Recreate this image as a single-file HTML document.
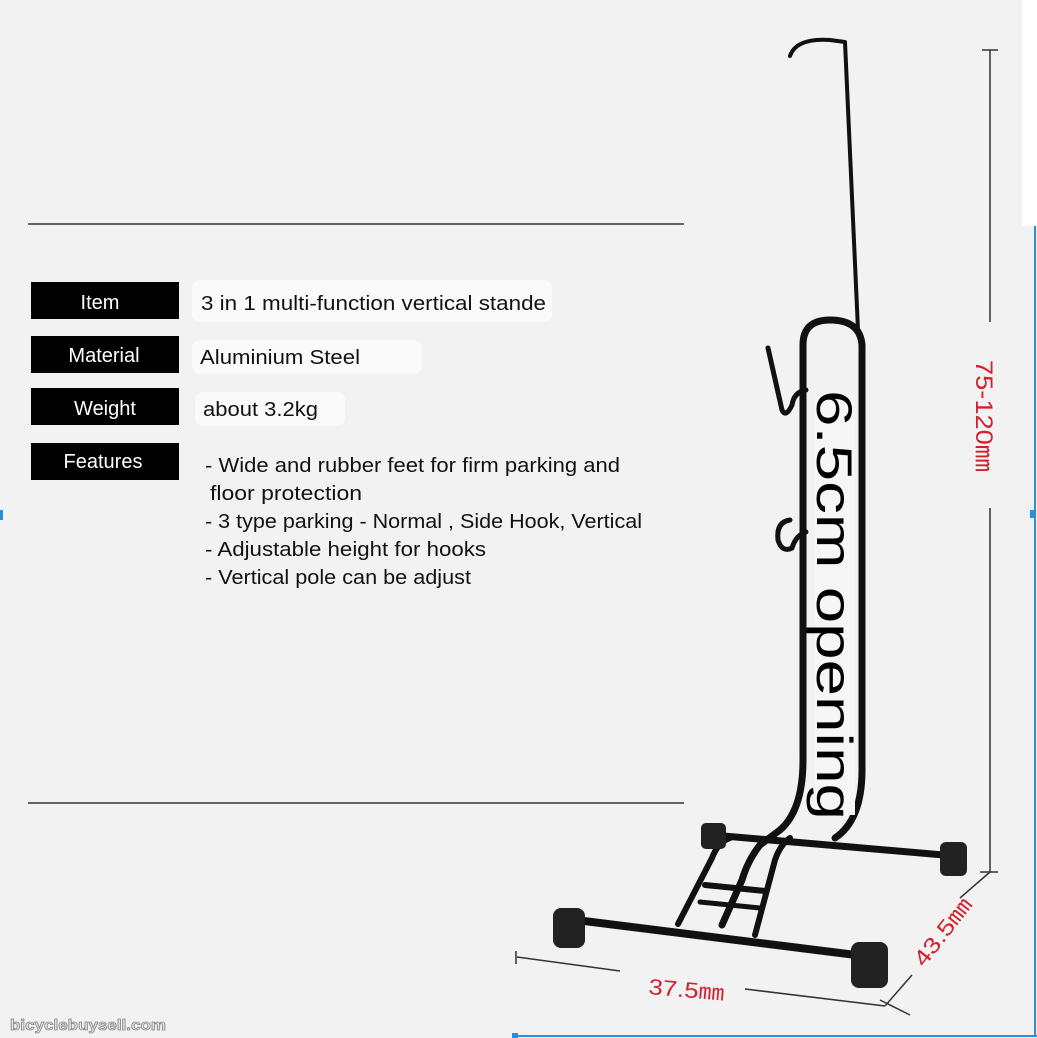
<!DOCTYPE html>
<html><head><meta charset="utf-8"><style>
html,body{margin:0;padding:0;background:#f2f2f2}
svg{display:block}
</style></head><body>
<svg width="1037" height="1038" viewBox="0 0 1037 1038" xmlns="http://www.w3.org/2000/svg">
<rect width="1037" height="1038" fill="#f2f2f2"/>
<rect x="1022" y="0" width="15" height="226" fill="#ffffff"/>
<line x1="1035" y1="226" x2="1035" y2="1037" stroke="#2b8fd8" stroke-width="2"/>
<line x1="515" y1="1036" x2="1037" y2="1036" stroke="#2b8fd8" stroke-width="2"/>
<rect x="1030" y="510" width="5" height="8" fill="#2b8fd8"/>
<rect x="0" y="510" width="3" height="10" fill="#2b8fd8"/>
<rect x="512" y="1033" width="6" height="5" fill="#2b8fd8"/>

<!-- panel lines -->
<line x1="28" y1="224" x2="684" y2="224" stroke="#333" stroke-width="1.5"/>
<line x1="28" y1="803" x2="684" y2="803" stroke="#333" stroke-width="1.5"/>

<g font-family="Liberation Sans, sans-serif">
<rect x="31" y="282" width="148" height="37" fill="#000"/>
<rect x="31" y="336" width="148" height="37" fill="#000"/>
<rect x="31" y="388" width="148" height="37" fill="#000"/>
<rect x="31" y="443" width="148" height="37" fill="#000"/>
<g fill="#fff" font-size="20" text-anchor="middle">
<text x="100" y="309">Item</text>
<text x="104" y="362">Material</text>
<text x="105" y="415">Weight</text>
<text x="103" y="468">Features</text>
</g>
<rect x="192" y="280" width="360" height="42" fill="#fafafa" rx="8"/>
<rect x="192" y="340" width="230" height="34" fill="#fafafa" rx="8"/>
<rect x="195" y="392" width="150" height="34" fill="#fafafa" rx="8"/>
<g fill="#111" font-size="20">
<text x="201" y="310" textLength="345" lengthAdjust="spacingAndGlyphs">3 in 1 multi-function vertical stande</text>
<text x="200" y="364" textLength="160" lengthAdjust="spacingAndGlyphs">Aluminium Steel</text>
<text x="203" y="416" textLength="115" lengthAdjust="spacingAndGlyphs">about 3.2kg</text>
<text x="205" y="472" textLength="415" lengthAdjust="spacingAndGlyphs">- Wide and rubber feet for firm parking and</text>
<text x="210" y="500" textLength="152" lengthAdjust="spacingAndGlyphs">floor protection</text>
<text x="205" y="528" textLength="437" lengthAdjust="spacingAndGlyphs">- 3 type parking - Normal , Side Hook, Vertical</text>
<text x="205" y="556" textLength="281" lengthAdjust="spacingAndGlyphs">- Adjustable height for hooks</text>
<text x="205" y="584" textLength="266" lengthAdjust="spacingAndGlyphs">- Vertical pole can be adjust</text>
</g>
</g>

<!-- stand -->
<g fill="none" stroke="#111" stroke-linecap="round" stroke-linejoin="round">
<!-- hook pole -->
<path d="M790 56 Q796 38 830 40 L845 42 L858 330" stroke-width="4"/>
<!-- main U loop -->
<path d="M803 760 L803 345 Q803 320 830 320 Q860 320 862 345 L862 770" stroke-width="7"/>
<!-- left rail bottom curve into front diagonal -->
<path d="M803 760 Q803 810 780 830 L760 845 Q748 860 742 880 L722 925" stroke-width="7"/>
<!-- right rail bottom curve to base -->
<path d="M862 770 Q862 820 835 838" stroke-width="7"/>
<!-- back base bar -->
<path d="M712 835 L955 856" stroke-width="7"/>
<!-- front base bar -->
<path d="M560 918 L880 958" stroke-width="8"/>
<!-- left diagonal -->
<path d="M730 838 Q718 842 712 858 L678 924" stroke-width="6"/>
<!-- rungs -->
<path d="M705 885 L765 891" stroke-width="6"/>
<path d="M700 902 L760 908" stroke-width="5"/>
<path d="M790 838 Q780 845 775 860 L755 935" stroke-width="6"/>
<!-- hooks -->
<path d="M768 348 L782 410 Q786 418 792 405 Q794 392 806 390" stroke-width="5"/>
<path d="M790 520 Q776 522 778 540 Q782 553 792 548 Q796 535 806 532" stroke-width="5"/>
</g>
<!-- feet -->
<g fill="#222">
<rect x="701" y="823" width="25" height="26" rx="5"/>
<rect x="940" y="842" width="27" height="34" rx="6"/>
<rect x="553" y="908" width="32" height="40" rx="8"/>
<rect x="851" y="942" width="37" height="46" rx="8"/>
</g>
<!-- 6.5cm opening -->
<rect x="815" y="395" width="40" height="420" fill="#f6f6f6"/>
<text transform="translate(817,390) rotate(90)" font-family="Liberation Sans, sans-serif" font-size="50" fill="#000" textLength="430" lengthAdjust="spacingAndGlyphs">6.5cm opening</text>

<!-- dimension lines -->
<g stroke="#333" stroke-width="1.5" fill="none">
<line x1="990" y1="50" x2="990" y2="322"/>
<line x1="982" y1="50" x2="998" y2="50"/>
<line x1="990" y1="508" x2="990" y2="872"/>
<line x1="980" y1="872" x2="998" y2="872"/>
<line x1="517" y1="957" x2="620" y2="971"/>
<line x1="516" y1="951" x2="516" y2="964"/>
<line x1="745" y1="989" x2="885" y2="1006"/>
<line x1="880" y1="1000" x2="910" y2="1015"/>
<line x1="885" y1="1006" x2="912" y2="975"/>
<line x1="960" y1="898" x2="990" y2="872"/>
</g>
<g font-family="Liberation Sans, sans-serif" fill="#d2202e">
<text transform="translate(976,360) rotate(90)" font-size="24" textLength="112" lengthAdjust="spacingAndGlyphs">75-120㎜</text>
<text x="648" y="994" font-size="22" transform="rotate(5 648 994)" textLength="76" lengthAdjust="spacingAndGlyphs">37.5㎜</text>
<text transform="translate(924,968) rotate(-52)" font-size="22" textLength="80" lengthAdjust="spacingAndGlyphs">43.5㎜</text>
</g>
<text x="10" y="1030" font-family="Liberation Sans, sans-serif" font-weight="bold" font-size="15" fill="#e8e8e8" stroke="#888" stroke-width="0.8" textLength="156" lengthAdjust="spacingAndGlyphs">bicyclebuysell.com</text>
</svg>
</body></html>
